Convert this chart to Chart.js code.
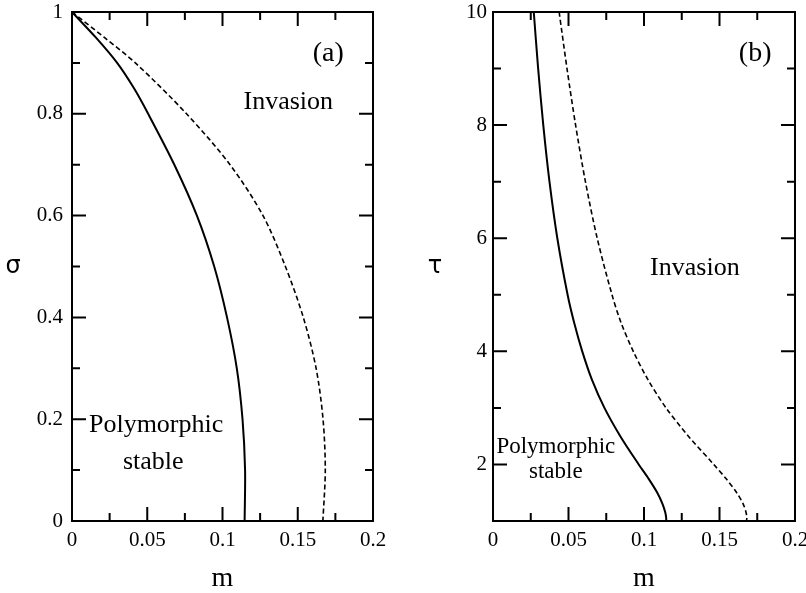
<!DOCTYPE html>
<html>
<head>
<meta charset="utf-8">
<script src="https://cdn.jsdelivr.net/npm/chart.js@4.4.1/dist/chart.umd.min.js"></script>
<style>
  html, body { margin: 0; padding: 0; background: #fff; }
  #wrap { position: relative; width: 806px; height: 593px; overflow: hidden; }
  canvas { position: absolute; top: 0; }
  #ca { left: 0; }
  #cb { left: 403px; }
</style>
</head>
<body>
<div id="wrap">
  <canvas id="ca" width="403" height="593"></canvas>
  <canvas id="cb" width="403" height="593"></canvas>
</div>
<script>
// ---------- Data ----------
// Panel (a): sigma vs m
const sigmaA_solid = [1, 0.95, 0.9, 0.85, 0.8, 0.7, 0.6, 0.5, 0.4, 0.3, 0.2, 0.1, 0];
const mA_solid     = [0, 0.0158, 0.0300, 0.0412, 0.0506, 0.0680, 0.0830, 0.0945, 0.1030, 0.1095, 0.1133, 0.1150, 0.1147];
const sigmaA_dashed = [1, 0.95, 0.9, 0.8, 0.7, 0.6, 0.5, 0.4, 0.3, 0.2, 0.1, 0];
const mA_dashed     = [0, 0.0215, 0.0421, 0.0761, 0.1050, 0.1269, 0.1418, 0.1537, 0.1622, 0.1668, 0.1683, 0.1667];

// Panel (b): tau vs m
const tauB_solid = [10, 9, 8, 7, 6, 5, 4.5, 4, 3.5, 3, 2.5, 2, 1.75, 1.5, 1.3, 1.15, 1.05, 1];
const mB_solid   = [0.0270, 0.0299, 0.0333, 0.0374, 0.0426, 0.0494, 0.0538, 0.0591, 0.0655, 0.0738, 0.0843, 0.0965, 0.1030, 0.1088, 0.1123, 0.1141, 0.1147, 0.1147];
const tauB_dashed = [10, 9, 8, 7, 6, 5, 4.5, 4, 3.5, 3, 2.5, 2, 1.75, 1.5, 1.3, 1.15, 1.05, 1];
const mB_dashed   = [0.0438, 0.0490, 0.0547, 0.0612, 0.0690, 0.0788, 0.0849, 0.0929, 0.1026, 0.1146, 0.1294, 0.1462, 0.1543, 0.1614, 0.1657, 0.1676, 0.1681, 0.1678];

// Ticks
const xTicks       = [0, 0.05, 0.1, 0.15, 0.2];
const xTickLabels  = ['0', '0.05', '0.1', '0.15', '0.2'];
const xMinorTicks  = [0.025, 0.075, 0.125, 0.175];
const sigmaTicks      = [0, 0.2, 0.4, 0.6, 0.8, 1];
const sigmaTickLabels = ['0', '0.2', '0.4', '0.6', '0.8', '1'];
const sigmaMinorTicks = [0.1, 0.3, 0.5, 0.7, 0.9];
const tauTicks      = [2, 4, 6, 8, 10];
const tauTickLabels = ['2', '4', '6', '8', '10'];
const tauMinorTicks = [3, 5, 7, 9];

// Text
const xTitle = 'm';
const yTitleA = 'σ';
const yTitleB = 'τ';

// ---------- helpers ----------
function pts(xs, ys) { return xs.map((x, i) => ({ x: x, y: ys[i] })); }

const SERIF = "'Liberation Serif', 'Times New Roman', serif";

const frameTicksPlugin = {
  id: 'frameTicks',
  afterDatasetsDraw(chart, args, opts) {
    const ctx = chart.ctx;
    const a = chart.chartArea;
    const xs = chart.scales.x, ys = chart.scales.y;
    ctx.save();
    ctx.strokeStyle = '#000';
    ctx.lineWidth = 2;
    ctx.lineCap = 'butt';
    ctx.strokeRect(a.left, a.top, a.right - a.left, a.bottom - a.top);
    const MAJ = 14, MIN = 8;
    ctx.beginPath();
    const vx = (v, len) => {
      const p = xs.getPixelForValue(v);
      ctx.moveTo(p, a.bottom); ctx.lineTo(p, a.bottom - len);
      ctx.moveTo(p, a.top); ctx.lineTo(p, a.top + len);
    };
    const vy = (v, len) => {
      const p = ys.getPixelForValue(v);
      ctx.moveTo(a.left, p); ctx.lineTo(a.left + len, p);
      ctx.moveTo(a.right, p); ctx.lineTo(a.right - len, p);
    };
    opts.xMajor.forEach(v => vx(v, MAJ));
    opts.xMinor.forEach(v => vx(v, MIN));
    opts.yMajor.forEach(v => vy(v, MAJ));
    opts.yMinor.forEach(v => vy(v, MIN));
    ctx.stroke();

    // y-axis symbol (upright), annotations
    ctx.fillStyle = '#000';
    ctx.textAlign = 'center';
    ctx.textBaseline = 'middle';
    ctx.font = "24px 'DejaVu Sans', sans-serif";
    ctx.fillText(opts.yTitle, a.left - opts.yTitleOffset, (a.top + a.bottom) / 2);
    opts.notes.forEach(n => {
      ctx.font = n.size + 'px ' + SERIF;
      ctx.fillText(n.text, xs.getPixelForValue(n.x), ys.getPixelForValue(n.y));
    });
    ctx.restore();
  }
};

function makeChart(canvasId, solid, dashed, yMin, yMax, yTicks, yTickLabels, yMinor, yTitle, padLeft, padRight, yLabelPad, notes, yTitleOffset) {
  return new Chart(document.getElementById(canvasId), {
    type: 'scatter',
    data: {
      datasets: [
        { data: solid, showLine: true, borderColor: '#000', borderWidth: 2, pointRadius: 0, tension: 0.3, fill: false },
        { data: dashed, showLine: true, borderColor: '#000', borderWidth: 1.6, borderDash: [5, 3], pointRadius: 0, tension: 0.3, fill: false }
      ]
    },
    options: {
      responsive: false,
      animation: false,
      events: [],
      layout: { padding: { left: 0, right: padRight, top: 12, bottom: 0 } },
      plugins: {
        legend: { display: false },
        tooltip: { enabled: false },
        frameTicks: { xMajor: xTicks, xMinor: xMinorTicks, yMajor: yTicks, yMinor: yMinor, yTitle: yTitle, yTitleOffset: yTitleOffset, notes: notes }
      },
      scales: {
        x: {
          type: 'linear', min: 0, max: 0.2,
          grid: { display: false, drawTicks: false },
          border: { display: false },
          afterBuildTicks: s => { s.ticks = xTicks.map(v => ({ value: v })); },
          ticks: {
            padding: 7, color: '#000', maxRotation: 0, autoSkip: false,
            font: { family: SERIF, size: 21 },
            callback: (v, i) => xTickLabels[i]
          },
          title: { display: true, text: xTitle, color: '#000', font: { family: SERIF, size: 28, lineHeight: 1 }, padding: { top: 0, bottom: 0 } },
          afterFit: s => { s.height = 593 - 521; s.paddingLeft = 0; s.paddingRight = 0; }
        },
        y: {
          type: 'linear', min: yMin, max: yMax,
          grid: { display: false, drawTicks: false },
          border: { display: false },
          afterBuildTicks: s => { s.ticks = yTicks.map(v => ({ value: v })); },
          ticks: {
            padding: yLabelPad, color: '#000', autoSkip: false,
            font: { family: SERIF, size: 21 },
            callback: (v, i) => yTickLabels[i]
          },
          afterFit: s => { s.width = padLeft; s.paddingTop = 0; s.paddingBottom = 0; }
        }
      }
    },
    plugins: [frameTicksPlugin]
  });
}

makeChart('ca', pts(mA_solid, sigmaA_solid), pts(mA_dashed, sigmaA_dashed),
  0, 1, sigmaTicks, sigmaTickLabels, sigmaMinorTicks, yTitleA, 72, 30, 9,
  [
    { text: '(a)', x: 0.1703, y: 0.919, size: 28 },
    { text: 'Invasion', x: 0.1437, y: 0.823, size: 26 },
    { text: 'Polymorphic', x: 0.0559, y: 0.188, size: 26 },
    { text: 'stable', x: 0.0540, y: 0.116, size: 26 }
  ], 59);

makeChart('cb', pts(mB_solid, tauB_solid), pts(mB_dashed, tauB_dashed),
  1, 10, tauTicks, tauTickLabels, tauMinorTicks, yTitleB, 90, 11, 6,
  [
    { text: '(b)', x: 0.1736, y: 9.27, size: 28 },
    { text: 'Invasion', x: 0.1337, y: 5.47, size: 26 },
    { text: 'Polymorphic', x: 0.0416, y: 2.31, size: 23 },
    { text: 'stable', x: 0.0416, y: 1.86, size: 23 }
  ], 58);
</script>
</body>
</html>
